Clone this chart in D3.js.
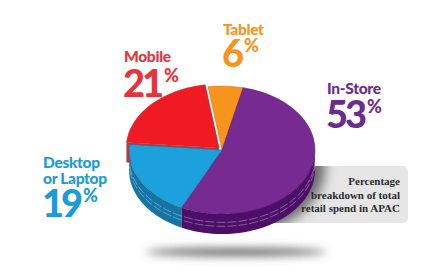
<!DOCTYPE html>
<html>
<head>
<script src="https://d3js.org/d3.v7.min.js"></script>
<style>
  body { margin: 0; background: #fff; }
  text { font-family: Lato, "Open Sans", sans-serif; }
</style>
</head>
<body>
<script>

const categories = ["Mobile", "Tablet", "In-Store", "Desktop or Laptop"];
const shares = [21, 6, 53, 19];
const noteLines = ["Percentage", "breakdown of total", "retail spend in APAC"];

const topColors = ["#ef1a22", "#f7941d", "#772a92", "#1da1dc"];
const sideColors = ["#b8373d", "#c96f0f", "#4d0e69", "#1574a3"];
const textColors = ["#e8333b", "#f7941d", "#6a2c91", "#1b9bd7"];

const width = 437, height = 278;
const cx = 222, cy = 150, rx = 93, ry = 64, depth = 20;

const svg = d3.select("body").append("svg")
  .attr("width", width)
  .attr("height", height);

const defs = svg.append("defs");
defs.append("filter").attr("id", "blur6").attr("x", "-50%").attr("y", "-50%").attr("width", "200%").attr("height", "200%")
  .append("feGaussianBlur").attr("stdDeviation", 6);
defs.append("filter").attr("id", "blur3").attr("x", "-50%").attr("y", "-200%").attr("width", "200%").attr("height", "500%")
  .append("feGaussianBlur").attr("stdDeviation", 4);
defs.append("clipPath").attr("id", "boxclip")
  .append("rect").attr("x", 230).attr("y", 166).attr("width", 178).attr("height", 57).attr("rx", 5);

// floor shadow
svg.append("ellipse")
  .attr("cx", 236).attr("cy", 252).attr("rx", 90).attr("ry", 4)
  .attr("fill", "#666").attr("filter", "url(#blur3)");

// note box
svg.append("rect")
  .attr("x", 230).attr("y", 166).attr("width", 178).attr("height", 57).attr("rx", 5)
  .attr("fill", "#e6e6e6");
svg.append("g").attr("clip-path", "url(#boxclip)")
  .append("ellipse")
  .attr("cx", cx + 8).attr("cy", cy + 18).attr("rx", rx + 2).attr("ry", ry + 4)
  .attr("fill", "#6a6a6a").attr("filter", "url(#blur6)");

const a0 = -85 * Math.PI / 180;
const pie = d3.pie().sort(null).value(d => d)
  .startAngle(a0).endAngle(a0 + 2 * Math.PI);
const arcs = pie(shares);

// red slice pulled out a little
const explode = [4, 0, 0, 0];
arcs.forEach((d, i) => {
  const mid = (d.startAngle + d.endAngle) / 2;
  d.ox = explode[i] * Math.sin(mid);
  d.oy = -explode[i] * Math.cos(mid) * ry / rx;
});

const pt = (d, a, dy = 0) => [cx + d.ox + rx * Math.sin(a), cy + d.oy - ry * Math.cos(a) + dy];
const line = d3.line();

// outer walls (front half only)
const walls = svg.append("g");
arcs.forEach((d, i) => {
  const lo = Math.max(d.startAngle, Math.PI / 2);
  const hi = Math.min(d.endAngle, 3 * Math.PI / 2);
  if (lo >= hi) return;
  const steps = d3.range(0, 41).map(k => lo + (hi - lo) * k / 40);
  const top = steps.map(a => pt(d, a));
  const bot = steps.slice().reverse().map(a => pt(d, a, depth));
  walls.append("path")
    .attr("d", line(top.concat(bot)) + "Z")
    .attr("fill", sideColors[i]);
  [0.42, 0.62].forEach(f => {
    walls.append("path")
      .attr("d", line(steps.map(a => pt(d, a, depth * f))))
      .attr("fill", "none")
      .attr("stroke", "#fff")
      .attr("stroke-opacity", 0.55)
      .attr("stroke-width", 0.6)
      .attr("stroke-dasharray", "9 2");
  });
});

// radial faces of exploded slice
arcs.forEach((d, i) => {
  if (!explode[i]) return;
  const c = [cx + d.ox, cy + d.oy];
  [d.startAngle, d.endAngle].forEach(a => {
    const p = pt(d, a);
    walls.append("path")
      .attr("d", line([c, p, [p[0], p[1] + depth], [c[0], c[1] + depth]]) + "Z")
      .attr("fill", sideColors[i]);
  });
});

// top faces
svg.append("g").selectAll("path")
  .data(arcs)
  .join("path")
  .attr("d", d => {
    const p0 = pt(d, d.startAngle), p1 = pt(d, d.endAngle);
    const large = d.endAngle - d.startAngle > Math.PI ? 1 : 0;
    return `M${cx + d.ox},${cy + d.oy}L${p0}A${rx},${ry} 0 ${large} 1 ${p1}Z`;
  })
  .attr("fill", (d, i) => topColors[i])
  .attr("stroke", (d, i) => sideColors[i])
  .attr("stroke-width", 0.5);

// category labels: name line(s) + big number, one text block each
const labelPos = [
  { x: 124, y: 62, ny: 97 },
  { x: 223, y: 35, ny: 67 },
  { x: 327, y: 94, ny: 128 },
  { x: 43, y: 168, ny: 217 }
];
const labelLines = [["Mobile"], ["Tablet"], ["In-Store"], ["Desktop", "or Laptop"]];

svg.append("g").selectAll("text")
  .data(arcs)
  .join("text")
  .attr("fill", (d, i) => textColors[i])
  .each(function(d, i) {
    const t = d3.select(this);
    const p = labelPos[i];
    labelLines[i].forEach((s, k) => {
      t.append("tspan")
        .attr("x", p.x).attr("y", p.y + k * 16)
        .attr("font-size", 15.5).attr("font-weight", 900)
        .attr("letter-spacing", -0.3)
        .text(s);
    });
    t.append("tspan")
      .attr("x", p.x - 1).attr("y", p.ny)
      .attr("font-size", 38).attr("font-weight", 900)
      .attr("letter-spacing", -3)
      .text(d.data);
    t.append("tspan")
      .attr("font-size", 18).attr("font-weight", 900)
      .attr("dy", -15).attr("dx", 3)
      .text("%");
  });

// note
svg.append("text")
  .attr("text-anchor", "end")
  .style("font-family", "'Liberation Serif', serif")
  .attr("font-size", 11)
  .attr("font-weight", 700)
  .attr("fill", "#2b2b2b")
  .selectAll("tspan")
  .data(noteLines)
  .join("tspan")
  .attr("x", 400)
  .attr("y", (d, i) => 185 + i * 13.5)
  .text(d => d);

</script>
</body>
</html>
